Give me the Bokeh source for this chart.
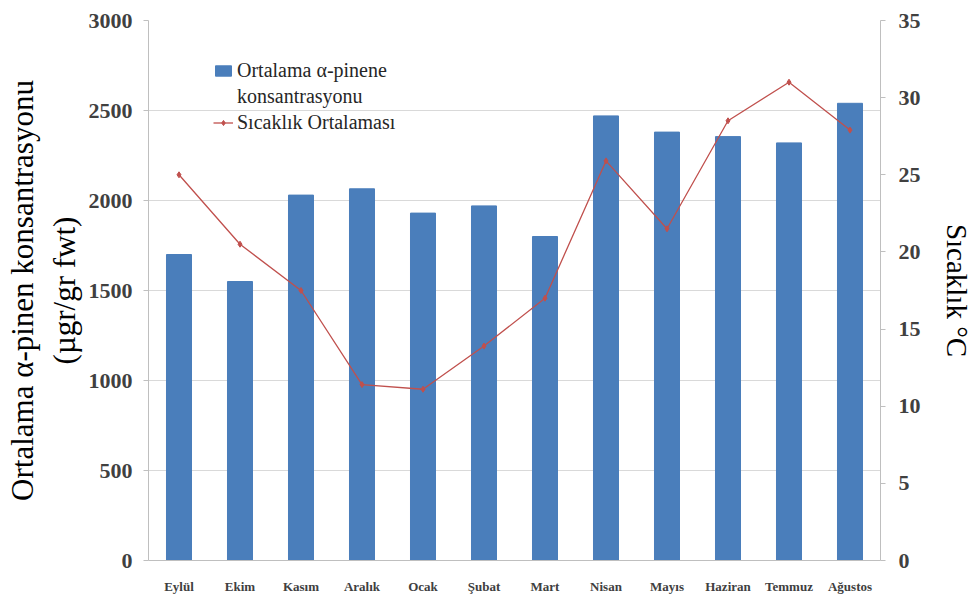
from bokeh.plotting import figure
from bokeh.models import Range1d, LinearAxis, Legend, LegendItem, FixedTicker
from bokeh.embed import file_html
from bokeh.resources import INLINE

months = ["Eylül", "Ekim", "Kasım", "Aralık", "Ocak", "Şubat", "Mart",
          "Nisan", "Mayıs", "Haziran", "Temmuz", "Ağustos"]
pinene = [1700, 1550, 2030, 2065, 1930, 1970, 1800, 2470, 2380, 2355, 2320, 2540]
temperature = [25.0, 20.5, 17.5, 11.4, 11.1, 13.9, 17.0, 25.9, 21.5, 28.5, 31.0, 27.9]
left_ticks = [0, 500, 1000, 1500, 2000, 2500, 3000]
right_ticks = [0, 5, 10, 15, 20, 25, 30, 35]

SERIF = "Liberation Serif"

p = figure(width=976, height=606, x_range=months, y_range=Range1d(0, 3000),
           output_backend="svg", toolbar_location=None,
           min_border_left=148, min_border_right=96, min_border_top=20,
           min_border_bottom=46)
p.extra_y_ranges = {"temp": Range1d(0, 35)}

bars = p.vbar(x=months, top=pinene, width=0.41, color="#4A7EBB")
line = p.line(x=months, y=temperature, y_range_name="temp",
              line_color="#C0504D", line_width=1.3)
pts = p.scatter(x=months, y=temperature, y_range_name="temp", marker="diamond",
                size=6, color="#C0504D")
# transparent placeholder so the legend's second text line has no glyph
blank = p.vbar(x=[], top=[], width=0.4, fill_alpha=0, line_alpha=0)

right = LinearAxis(y_range_name="temp", ticker=FixedTicker(ticks=right_ticks))
p.add_layout(right, "right")
p.yaxis[0].ticker = FixedTicker(ticks=left_ticks)

for ax in p.yaxis:
    ax.major_label_text_font = SERIF
    ax.major_label_text_font_style = "bold"
    ax.major_label_text_font_size = "22px"
    ax.major_label_text_color = "#404040"
    ax.axis_line_color = "#BFBFBF"
    ax.major_tick_line_color = "#BFBFBF"
    ax.minor_tick_line_color = None
    ax.major_tick_in = 0
    ax.major_tick_out = 5
    ax.axis_label_text_font = SERIF
    ax.axis_label_text_font_style = "normal"
    ax.axis_label_text_color = "black"

p.yaxis[0].axis_label = "Ortalama α-pinen konsantrasyonu\n(µgr/gr fwt)"
p.yaxis[0].axis_label_text_font_size = "31px"
p.yaxis[0].axis_label_standoff = 4
p.yaxis[0].major_label_standoff = 11
right.axis_label = "Sıcaklık °C"
right.axis_label_text_font_size = "29px"
right.axis_label_standoff = 17
right.major_label_standoff = 13

xa = p.xaxis[0]
xa.major_label_text_font = SERIF
xa.major_label_text_font_style = "bold"
xa.major_label_text_font_size = "13px"
xa.major_label_text_color = "#404040"
xa.axis_line_color = "#BFBFBF"
xa.major_tick_line_color = None
xa.major_label_standoff = 12

p.xgrid.grid_line_color = None
p.ygrid.grid_line_color = "#D9D9D9"
p.ygrid.ticker = FixedTicker(ticks=left_ticks)
p.outline_line_color = None

legend = Legend(items=[
    LegendItem(label="Ortalama α-pinene", renderers=[bars]),
    LegendItem(label="konsantrasyonu", renderers=[blank]),
    LegendItem(label="Sıcaklık Ortalaması", renderers=[line, pts]),
], location=(65, 426))
legend.label_text_font = SERIF
legend.label_text_font_size = "20px"
legend.label_text_color = "#262626"
legend.label_height = 22
legend.label_standoff = 4
legend.border_line_color = None
legend.background_fill_alpha = 0
legend.glyph_width = 20
legend.glyph_height = 13
legend.spacing = 3
legend.padding = 0
legend.margin = 0
p.add_layout(legend)

open("out.html", "w").write(file_html(p, INLINE))
